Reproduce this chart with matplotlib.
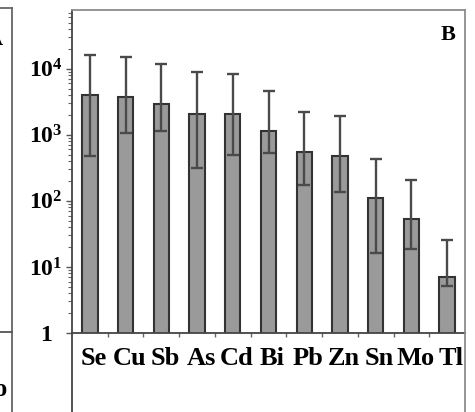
import matplotlib
matplotlib.use("Agg")
import matplotlib.pyplot as plt
from matplotlib.lines import Line2D
from matplotlib.ticker import FixedLocator, LogLocator, NullFormatter
from matplotlib.transforms import ScaledTranslation
import numpy as np

# element concentrations (log scale), bar = mean, whiskers = lower/upper
elements = ["Se", "Cu", "Sb", "As", "Cd", "Bi", "Pb", "Zn", "Sn", "Mo", "Tl"]
means = [4000, 3700, 2900, 2100, 2050, 1150, 550, 480, 110, 53, 7.0]
upper = [16000, 15000, 11800, 8800, 8300, 4600, 2250, 1950, 430, 210, 26]
lower = [470, 1060, 1150, 320, 490, 530, 175, 138, 16, 18.7, 5.2]

plt.rcParams["font.family"] = ["Liberation Serif", "DejaVu Serif"]
plt.rcParams["font.weight"] = "bold"
plt.rcParams["mathtext.fontset"] = "custom"
plt.rcParams["mathtext.rm"] = "Liberation Serif:bold"
plt.rcParams["mathtext.it"] = "Liberation Serif:bold"
plt.rcParams["mathtext.bf"] = "Liberation Serif:bold"

W, H = 475, 412
fig = plt.figure(figsize=(W / 100, H / 100), dpi=100)
x0, x1, ybot, ytop = 72, 465, 333, 10
ax = fig.add_axes([x0 / W, (H - ybot) / H, (x1 - x0) / W, (ybot - ytop) / H])

x = np.arange(len(elements))
m = np.array(means)
yerr = [m - np.array(lower), np.array(upper) - m]
ax.bar(x, m, width=0.43, color="#9a9a9a", edgecolor="#333333", linewidth=1.5, zorder=2)
ax.errorbar(x, m, yerr=yerr, fmt="none", ecolor="#4a4a4a", elinewidth=1.7,
            capsize=4, capthick=1.7, zorder=3)

ax.set_yscale("log")
ax.set_ylim(1, 10 ** 4.89)
ax.set_xlim(-0.5, 10.5)

ax.yaxis.set_major_locator(FixedLocator([1, 10, 100, 1000, 10000]))
ax.set_yticklabels(["1", r"$10^{1}$", r"$10^{2}$", r"$10^{3}$", r"$10^{4}$"])
ax.yaxis.set_minor_locator(LogLocator(base=10, subs=np.arange(2, 10), numticks=20))
ax.yaxis.set_minor_formatter(NullFormatter())
ax.tick_params(axis="y", which="major", direction="out", length=4, width=1,
               color="#555555", pad=15, labelsize=17)
ax.tick_params(axis="y", which="minor", direction="out", length=3, width=0.8,
               color="#666666")
for lab in ax.get_yticklabels():
    lab.set_horizontalalignment("center")

ax.set_xticks(x)
ax.set_xticklabels(elements)
ax.set_xticks(x[:-1] + 0.5, minor=True)
ax.tick_params(axis="x", which="major", length=0, pad=10, labelsize=19)
ax.tick_params(axis="x", which="minor", direction="out", length=3, width=1,
               color="#666666")
# category names sit slightly right of their bars
shift = ScaledTranslation(4 / 100, 0, fig.dpi_scale_trans)
for lab in ax.get_xticklabels():
    lab.set_transform(lab.get_transform() + shift)

for side in ("left", "bottom"):
    ax.spines[side].set_color("#444444")
    ax.spines[side].set_linewidth(1.3)
for side in ("top", "right"):
    ax.spines[side].set_color("#8c8c8c")
    ax.spines[side].set_linewidth(1.3)

# frame of panel B continues below the category labels
fig.add_artist(Line2D([x0 / W, x0 / W], [0, (H - ybot) / H], color="#444444", lw=1.3))
fig.add_artist(Line2D([x1 / W, x1 / W], [0, (H - ybot) / H], color="#8c8c8c", lw=1.3))

ax.text(0.975, 0.955, "B", transform=ax.transAxes, ha="right", va="top",
        fontsize=16, fontweight="bold")

# edge of the neighbouring panel A
fig.add_artist(Line2D([12 / W, 12 / W], [0, 1 - 8 / H], color="#666666", lw=1.3))
fig.add_artist(Line2D([0, 12 / W], [1 - 8 / H, 1 - 8 / H], color="#666666", lw=1.3))
fig.add_artist(Line2D([0, 12 / W], [1 - 332 / H, 1 - 332 / H], color="#555555", lw=1.3))
fig.text(3 / W, 1 - 40 / H, "A", ha="right", va="center", fontsize=16, fontweight="bold")
fig.text(8 / W, 1 - 389 / H, "Mo", ha="right", va="center", fontsize=18.5,
         fontweight="bold")

fig.savefig("out.png", dpi=100)
